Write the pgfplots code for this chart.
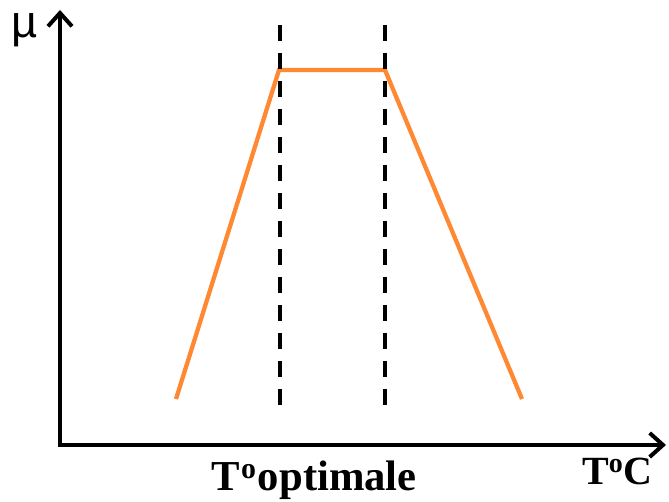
\documentclass[border=0pt]{standalone}
\usepackage{pgfplots}
\pgfplotsset{compat=1.18}
\usetikzlibrary{arrows.meta}
\usepackage{fontspec}
\setmainfont{Liberation Serif}
\newfontfamily\mufont{Liberation Sans}

\definecolor{curve}{HTML}{FF8833}

\begin{document}
\begin{tikzpicture}[x=0.75pt,y=0.75pt]
\begin{axis}[
  scale only axis,
  width=454.5pt, height=326.25pt,
  xmin=60, xmax=666,
  ymin=57, ymax=492,
  axis lines=left,
  axis line style={line width=3.2pt, line cap=rect,
    -{Straight Barb[length=10pt,width=18pt,line width=3pt]}},
  ticks=none,
  clip=false,
]
  % growth rate versus temperature
  \addplot[curve, line width=3.2pt, line join=miter] coordinates {
    (176,103) (279,432) (385,432) (522,103)
  };
  % bounds of the optimal range
  \addplot[black, line width=3pt, dash pattern=on 12pt off 9pt] coordinates {(280,477) (280,97)};
  \addplot[black, line width=3pt, dash pattern=on 12pt off 9pt] coordinates {(385,477) (385,97)};

  \node[anchor=base, inner sep=0pt, font=\bfseries\fontsize{32}{32}\selectfont] at (axis cs:314,11) {T\kern1pt\textsuperscript{o}\kern1pt optimale};
  \node[anchor=base west, inner sep=0pt, font=\bfseries\fontsize{30}{30}\selectfont] at (axis cs:582,17) {T\textsuperscript{o}C};
  \node[anchor=center, inner sep=0pt, font=\mufont\fontsize{34}{34}\selectfont] at (axis cs:25,472) {µ};

  \path (axis cs:0,0) rectangle (axis cs:669,502);
\end{axis}
\end{tikzpicture}
\end{document}
